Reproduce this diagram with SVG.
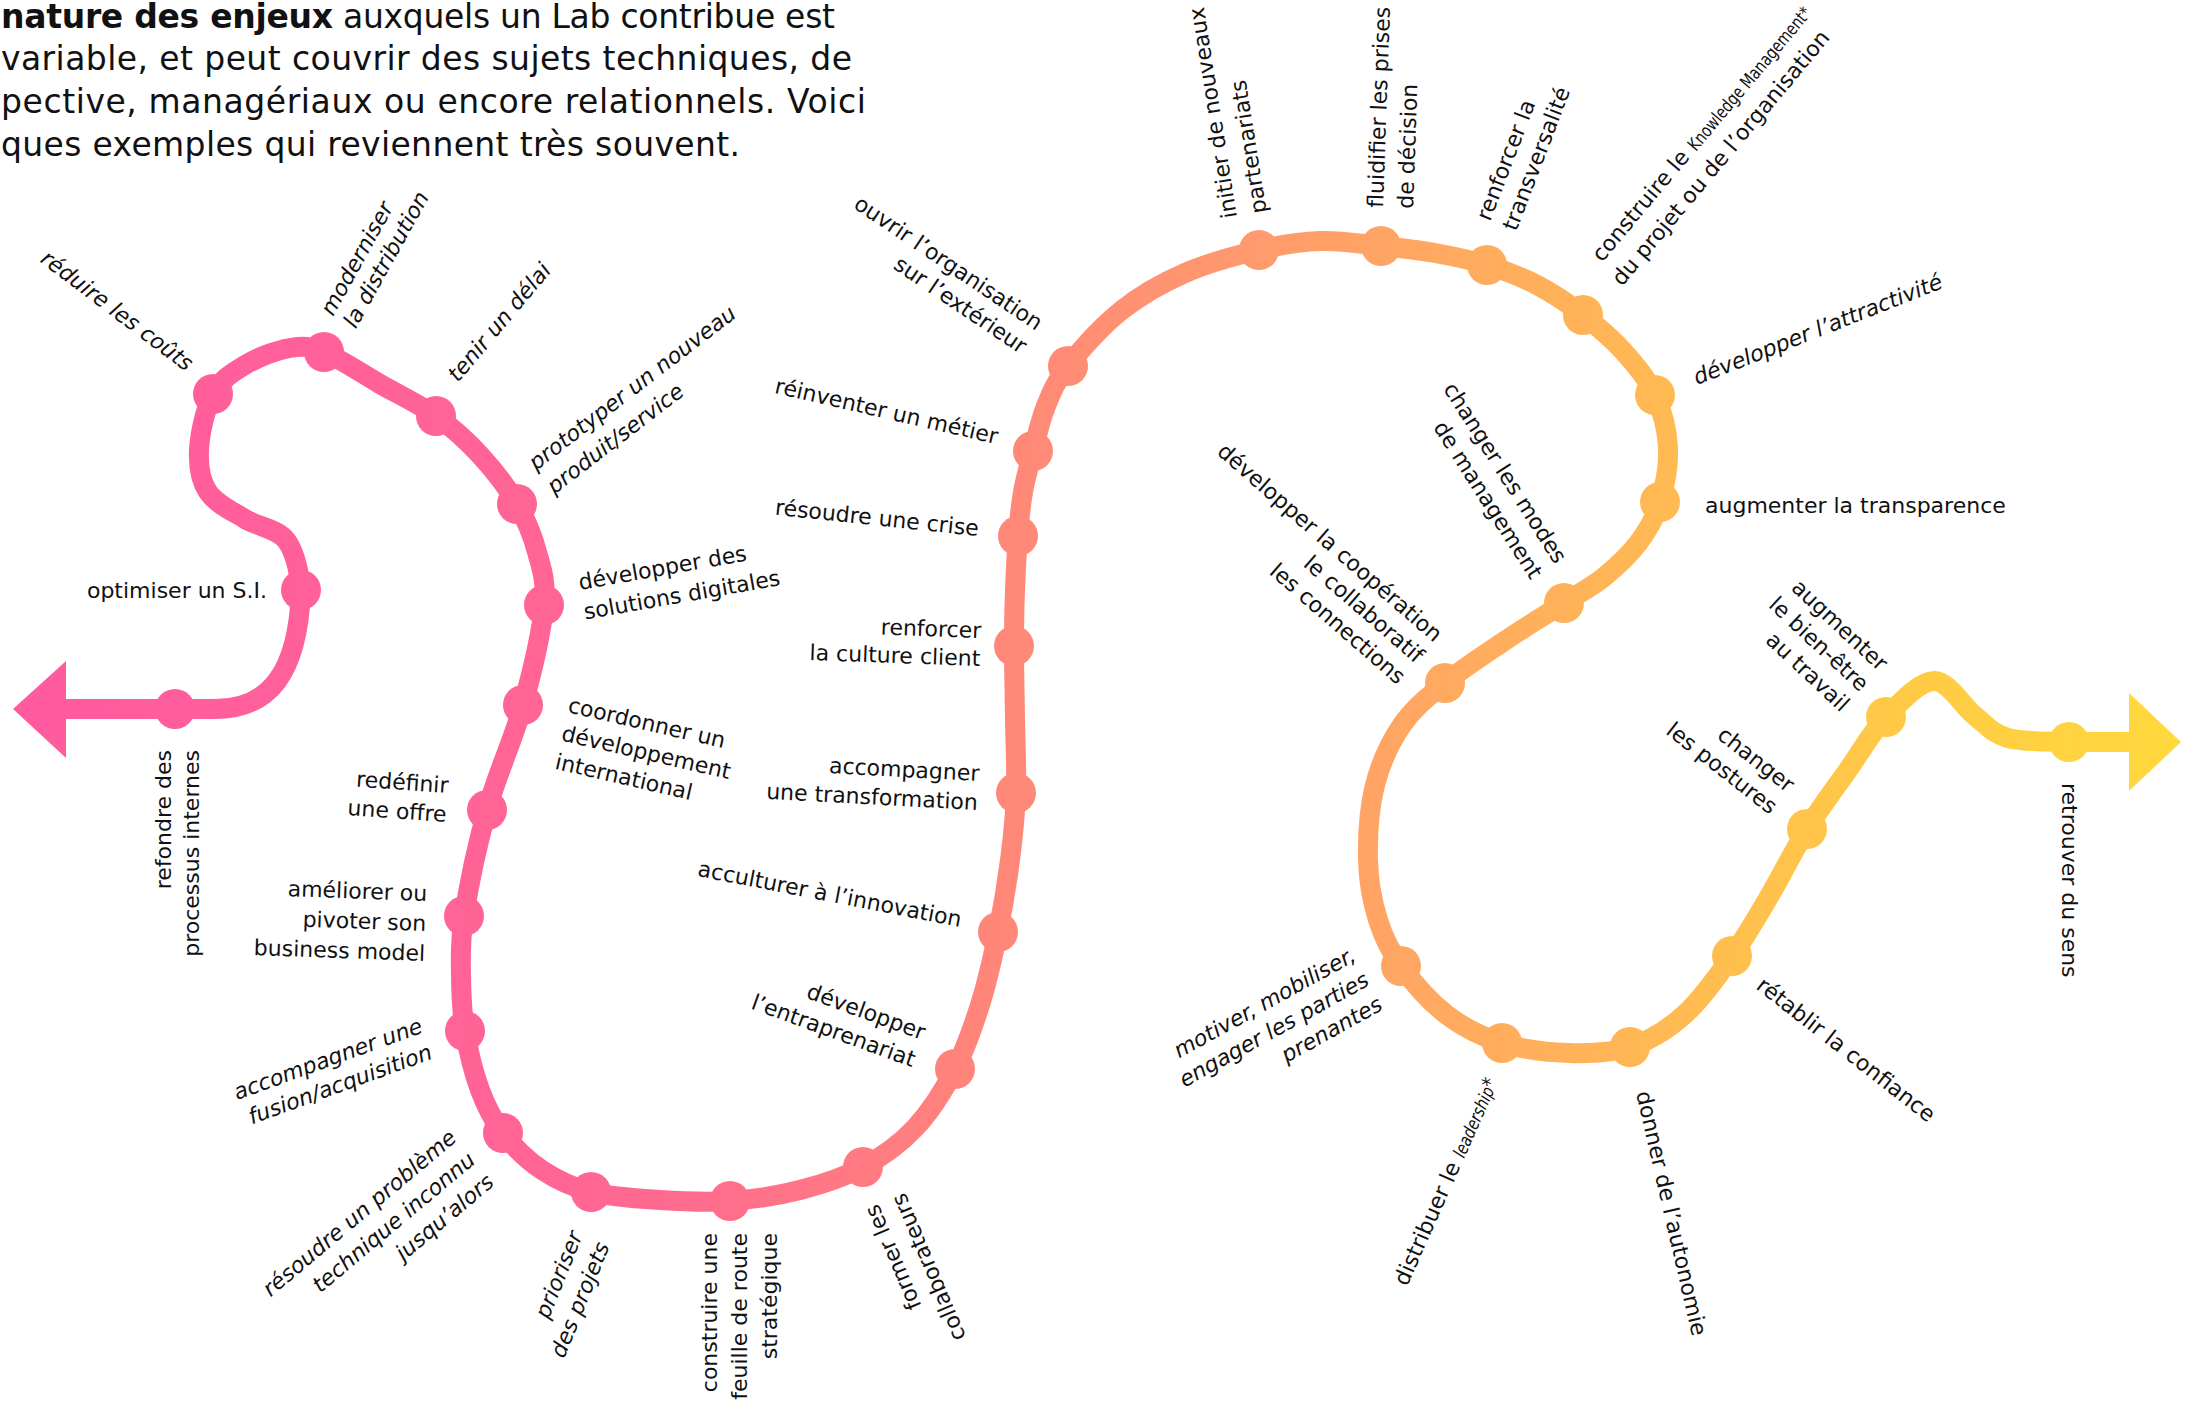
<svg xmlns="http://www.w3.org/2000/svg" width="2197" height="1402" viewBox="0 0 2197 1402">
<defs>
<linearGradient id="g" gradientUnits="userSpaceOnUse" x1="0" y1="0" x2="2197" y2="0">
<stop offset="0" stop-color="#FF5A9F"/>
<stop offset="0.25" stop-color="#FF6595"/>
<stop offset="0.33" stop-color="#FF6E8B"/>
<stop offset="0.46" stop-color="#FF8878"/>
<stop offset="0.57" stop-color="#FF9A6D"/>
<stop offset="0.63" stop-color="#FFA564"/>
<stop offset="0.72" stop-color="#FFB358"/>
<stop offset="0.82" stop-color="#FFC44A"/>
<stop offset="1" stop-color="#FFDA3C"/>
</linearGradient>
<style>
.line{fill:none;stroke:url(#g);stroke-width:20;stroke-linejoin:round}
.dot{fill:url(#g)}
.lbl{font-family:"DejaVu Sans",sans-serif;font-size:22px;fill:#111}
.it{font-style:italic}
.cond{font-family:"DejaVu Sans",sans-serif;font-size:18px;fill:#111}
.title{font-family:"DejaVu Sans",sans-serif;font-size:33px;fill:#111}
.e{text-anchor:end}
</style>
</defs>
<rect width="2197" height="1402" fill="#fff"/>

<g id="title">
<text class="title" x="1" y="28" textLength="834"><tspan font-weight="bold">nature des enjeux</tspan> auxquels un Lab contribue est</text>
<text class="title" x="1" y="70" textLength="851">variable, et peut couvrir des sujets techniques, de</text>
<text class="title" x="1" y="113" textLength="865">pective, managériaux ou encore relationnels. Voici</text>
<text class="title" x="1" y="156" textLength="739">ques exemples qui reviennent très souvent.</text>
</g>

<g id="connectors">
<path class="line" d="M 66 709 L 215 709 C 268 709 298 675 301 590
C 299.2 573.3 295.3 551.8 286 540 C 276.7 528.2 258 527 245 519 C 232 511 215.7 503.5 208 492
C 200.3 480.5 198.2 466.3 199 450 C 199.8 433.7 205.3 408.2 213 394 C 220.7 379.8 232.2 372.7 245 365
C 257.8 357.3 276.8 350.2 290 348 C 303.2 345.8 309 346 324 352 C 339 358 361.3 373.3 380 384
C 398.7 394.7 419.3 404.2 436 416 C 452.7 427.8 466.5 440.3 480 455 C 493.5 469.7 507.5 487.8 517 504
C 526.5 520.2 532.5 535.2 537 552 C 541.5 568.8 546.3 579.5 544 605 C 541.7 630.5 532.5 670.8 523 705
C 513.5 739.2 496.8 774.8 487 810 C 477.2 845.2 468.3 888.5 464 916 C 459.7 943.5 460.8 955.8 461 975
C 461.2 994.2 461.8 1011.8 465 1031 C 468.2 1050.2 473.7 1073 480 1090 C 486.3 1107 492.7 1119.7 503 1133
C 513.3 1146.3 527.3 1160.2 542 1170 C 556.7 1179.8 571.3 1187 591 1192 C 610.7 1197 636.8 1198.5 660 1200
C 683.2 1201.5 706.7 1202.7 730 1201 C 753.3 1199.3 777.8 1195.7 800 1190 C 822.2 1184.3 843.8 1177.3 863 1167
C 882.2 1156.7 899.7 1144.3 915 1128 C 930.3 1111.7 944.2 1089.5 955 1069 C 965.8 1048.5 972.8 1027.8 980 1005
C 987.2 982.2 993 956.2 998 932 C 1003 907.8 1007 883.2 1010 860 C 1013 836.8 1015.2 816.3 1016 793
C 1016.8 769.7 1015.3 744.5 1015 720 C 1014.7 695.5 1014 667.7 1014 646 C 1014 624.3 1014.3 608.3 1015 590
C 1015.7 571.7 1016.7 552.3 1018 536 C 1019.3 519.7 1020.5 506.2 1023 492 C 1025.5 477.8 1029.2 465.3 1033 451
C 1036.8 436.7 1040.2 420.2 1046 406 C 1051.8 391.8 1055.3 382 1068 366 C 1080.7 350 1102.5 325.5 1122 310
C 1141.5 294.5 1162.2 283 1185 273 C 1207.8 263 1236.5 255.3 1259 250 C 1281.5 244.7 1299.7 241.7 1320 241
C 1340.3 240.3 1361.8 244 1381 246 C 1400.2 248 1417.3 249.8 1435 253 C 1452.7 256.2 1470 259.7 1487 265
C 1504 270.3 1521 276.7 1537 285 C 1553 293.3 1568.5 303.8 1583 315 C 1597.5 326.2 1612 338.7 1624 352
C 1636 365.3 1647.7 379 1655 395 C 1662.3 411 1667.2 430.2 1668 448 C 1668.8 465.8 1664.8 486.3 1660 502
C 1655.2 517.7 1648.3 529.5 1639 542 C 1629.7 554.5 1616.5 566.8 1604 577 C 1591.5 587.2 1580.3 592.5 1564 603
C 1547.7 613.5 1525.8 626.7 1506 640 C 1486.2 653.3 1462.3 668.8 1445 683 C 1427.7 697.2 1413.7 708 1402 725
C 1390.3 742 1380.7 762.5 1375 785 C 1369.3 807.5 1367.5 837.5 1368 860 C 1368.5 882.5 1372.5 902.3 1378 920
C 1383.5 937.7 1389.5 950.2 1401 966 C 1412.5 981.8 1430.2 1002.2 1447 1015 C 1463.8 1027.8 1481.8 1036.7 1502 1043
C 1522.2 1049.3 1546.7 1052.3 1568 1053 C 1589.3 1053.7 1610.7 1053.3 1630 1047 C 1649.3 1040.7 1667 1030.2 1684 1015
C 1701 999.8 1717.7 976 1732 956 C 1746.3 936 1757.5 916.2 1770 895 C 1782.5 873.8 1794 849.8 1807 829
C 1820 808.2 1834.8 788.7 1848 770 C 1861.2 751.3 1871.7 731.8 1886 717 C 1900.3 702.2 1919.2 681.2 1934 681
C 1948.8 680.8 1962.7 706.5 1975 716 C 1987.3 725.5 1992.3 733.7 2008 738 C 2023.7 742.3 2048.7 741.3 2069 742 L 2135 742"/>
<polygon class="dot" points="66,661 13,709 66,758"/>
<polygon class="dot" points="2129,693 2181,742 2129,791"/>
</g>

<g id="n-refondre"><circle class="dot" cx="175" cy="709" r="20"/>
<text class="lbl e" transform="translate(171,750) rotate(-90)"><tspan x="0" y="0">refondre des</tspan><tspan x="0" y="28">processus internes</tspan></text></g>
<g id="n-si"><circle class="dot" cx="301" cy="590" r="20"/>
<text class="lbl e" x="267" y="598">optimiser un S.I.</text></g>
<g id="n-reduire"><circle class="dot" cx="213" cy="394" r="20"/>
<text class="lbl e it" transform="translate(186,372) rotate(37)">réduire les coûts</text></g>
<g id="n-moderniser"><circle class="dot" cx="324" cy="352" r="20"/>
<text class="lbl it" transform="translate(333,317) rotate(-61)"><tspan x="0" y="0">moderniser</tspan><tspan x="0" y="26">la distribution</tspan></text></g>
<g id="n-tenir"><circle class="dot" cx="436" cy="416" r="20"/>
<text class="lbl it" transform="translate(458,383) rotate(-50)">tenir un délai</text></g>
<g id="n-prototyper"><circle class="dot" cx="517" cy="504" r="20"/>
<text class="lbl it" transform="translate(536,471) rotate(-37.5)"><tspan x="0" y="0">prototyper un nouveau</tspan><tspan x="0" y="30">produit/service</tspan></text></g>
<g id="n-digital"><circle class="dot" cx="544" cy="605" r="20"/>
<text class="lbl" transform="translate(580,590) rotate(-10)"><tspan x="0" y="0">développer des</tspan><tspan x="0" y="30">solutions digitales</tspan></text></g>
<g id="n-international"><circle class="dot" cx="523" cy="705" r="20"/>
<text class="lbl" transform="translate(567,712) rotate(13)"><tspan x="0" y="0">coordonner un</tspan><tspan x="0" y="29">développement</tspan><tspan x="0" y="58">international</tspan></text></g>
<g id="n-offre"><circle class="dot" cx="487" cy="810" r="20"/>
<text class="lbl e" transform="translate(448,793) rotate(4)"><tspan x="0" y="0">redéfinir</tspan><tspan x="0" y="29">une offre</tspan></text></g>
<g id="n-business"><circle class="dot" cx="464" cy="916" r="20"/>
<text class="lbl e" transform="translate(427,901) rotate(2)"><tspan x="0" y="0">améliorer ou</tspan><tspan x="0" y="30">pivoter son</tspan><tspan x="0" y="60">business model</tspan></text></g>
<g id="n-fusion"><circle class="dot" cx="465" cy="1031" r="20"/>
<text class="lbl e it" transform="translate(424,1032) rotate(-20)"><tspan x="0" y="0">accompagner une</tspan><tspan x="0" y="28">fusion/acquisition</tspan></text></g>
<g id="n-probleme"><circle class="dot" cx="503" cy="1133" r="20"/>
<text class="lbl e it" transform="translate(458,1140) rotate(-40)"><tspan x="0" y="0">résoudre un problème</tspan><tspan x="0" y="29">technique inconnu</tspan><tspan x="0" y="58">jusqu’alors</tspan></text></g>
<g id="n-prioriser"><circle class="dot" cx="591" cy="1192" r="20"/>
<text class="lbl e it" transform="translate(583,1235) rotate(-68)"><tspan x="0" y="0">prioriser</tspan><tspan x="0" y="29">des projets</tspan></text></g>
<g id="n-feuille"><circle class="dot" cx="730" cy="1201" r="20"/>
<text class="lbl e" transform="translate(717,1233) rotate(-90)"><tspan x="0" y="0">construire une</tspan><tspan x="0" y="30">feuille de route</tspan><tspan x="0" y="60">stratégique</tspan></text></g>
<g id="n-former"><circle class="dot" cx="863" cy="1167" r="20"/>
<text class="lbl e" transform="translate(878,1203) rotate(-113)"><tspan x="0" y="0">former les</tspan><tspan x="0" y="29">collaborateurs</tspan></text></g>
<g id="n-entreprenariat"><circle class="dot" cx="955" cy="1069" r="20"/>
<text class="lbl e" transform="translate(922,1040) rotate(20)"><tspan x="0" y="0">développer</tspan><tspan x="0" y="29">l’entraprenariat</tspan></text></g>
<g id="n-innovation"><circle class="dot" cx="998" cy="932" r="20"/>
<text class="lbl e" transform="translate(960,927) rotate(11)">acculturer à l’innovation</text></g>
<g id="n-transformation"><circle class="dot" cx="1016" cy="793" r="20"/>
<text class="lbl e" transform="translate(979,781) rotate(3)"><tspan x="0" y="0">accompagner</tspan><tspan x="0" y="29">une transformation</tspan></text></g>
<g id="n-client"><circle class="dot" cx="1014" cy="646" r="20"/>
<text class="lbl e" transform="translate(981,638) rotate(2)"><tspan x="0" y="0">renforcer</tspan><tspan x="0" y="28">la culture client</tspan></text></g>
<g id="n-crise"><circle class="dot" cx="1018" cy="536" r="20"/>
<text class="lbl e" transform="translate(978,536) rotate(6)">résoudre une crise</text></g>
<g id="n-metier"><circle class="dot" cx="1033" cy="451" r="20"/>
<text class="lbl e" transform="translate(996,444) rotate(13)">réinventer un métier</text></g>
<g id="n-ouvrir"><circle class="dot" cx="1068" cy="366" r="20"/>
<text class="lbl e" transform="translate(1036,331) rotate(34)"><tspan x="0" y="0">ouvrir l’organisation</tspan><tspan x="0" y="28">sur l’extérieur</tspan></text></g>
<g id="n-partenariats"><circle class="dot" cx="1259" cy="250" r="20"/>
<text class="lbl" transform="translate(1237,217) rotate(-99)"><tspan x="0" y="0">initier de nouveaux</tspan><tspan x="0" y="30">partenariats</tspan></text></g>
<g id="n-decision"><circle class="dot" cx="1381" cy="246" r="20"/>
<text class="lbl" transform="translate(1383,208) rotate(-88)"><tspan x="0" y="0">fluidifier les prises</tspan><tspan x="0" y="30">de décision</tspan></text></g>
<g id="n-transversalite"><circle class="dot" cx="1487" cy="265" r="20"/>
<text class="lbl" transform="translate(1490,222) rotate(-69)"><tspan x="0" y="0">renforcer la</tspan><tspan x="0" y="28">transversalité</tspan></text></g>
<g id="n-knowledge"><circle class="dot" cx="1583" cy="315" r="20"/>
<text class="lbl" transform="translate(1602,263) rotate(-50)">construire le</text>
<text class="cond" transform="translate(1696,152) rotate(-50) scale(0.78,1)">Knowledge Management*</text>
<text class="lbl" transform="translate(1622,287) rotate(-50)">du projet ou de l’organisation</text></g>
<g id="n-attractivite"><circle class="dot" cx="1655" cy="395" r="20"/>
<text class="lbl it" transform="translate(1697,385) rotate(-21.5)">développer l’attractivité</text></g>
<g id="n-transparence"><circle class="dot" cx="1660" cy="502" r="20"/>
<text class="lbl" x="1705" y="513">augmenter la transparence</text></g>
<g id="n-management"><circle class="dot" cx="1564" cy="603" r="20"/>
<text class="lbl e" transform="translate(1555,565) rotate(57.5)"><tspan x="0" y="0">changer les modes</tspan><tspan x="0" y="29">de management</tspan></text></g>
<g id="n-cooperation"><circle class="dot" cx="1445" cy="683" r="20"/>
<text class="lbl e" transform="translate(1434,643) rotate(41)"><tspan x="0" y="0">développer la coopération</tspan><tspan x="0" y="28">le collaboratif</tspan><tspan x="0" y="56">les connections</tspan></text></g>
<g id="n-motiver"><circle class="dot" cx="1401" cy="966" r="20"/>
<text class="lbl e it" transform="translate(1357,960) rotate(-29)"><tspan x="0" y="0">motiver, mobiliser,</tspan><tspan x="0" y="28">engager les parties</tspan><tspan x="0" y="56">prenantes</tspan></text></g>
<g id="n-leadership"><circle class="dot" cx="1502" cy="1043" r="20"/>
<text class="lbl" transform="translate(1407,1287) rotate(-66)">distribuer le</text>
<text class="cond it" transform="translate(1464,1159) rotate(-66) scale(0.8,1)">leadership<tspan font-size="22" font-style="normal">*</tspan></text></g>
<g id="n-autonomie"><circle class="dot" cx="1630" cy="1047" r="20"/>
<text class="lbl" transform="translate(1636,1093) rotate(77)">donner de l’autonomie</text></g>
<g id="n-confiance"><circle class="dot" cx="1732" cy="956" r="20"/>
<text class="lbl" transform="translate(1755,988) rotate(38)">rétablir la confiance</text></g>
<g id="n-postures"><circle class="dot" cx="1807" cy="829" r="20"/>
<text class="lbl e" transform="translate(1787,793) rotate(38)"><tspan x="0" y="0">changer</tspan><tspan x="0" y="28">les postures</tspan></text></g>
<g id="n-bienetre"><circle class="dot" cx="1886" cy="717" r="20"/>
<text class="lbl e" transform="translate(1879,672) rotate(43)"><tspan x="0" y="0">augmenter</tspan><tspan x="0" y="28">le bien-être</tspan><tspan x="0" y="56">au travail</tspan></text></g>
<g id="n-sens"><circle class="dot" cx="2069" cy="742" r="20"/>
<text class="lbl" transform="translate(2062,783) rotate(90)">retrouver du sens</text></g>
</svg>
